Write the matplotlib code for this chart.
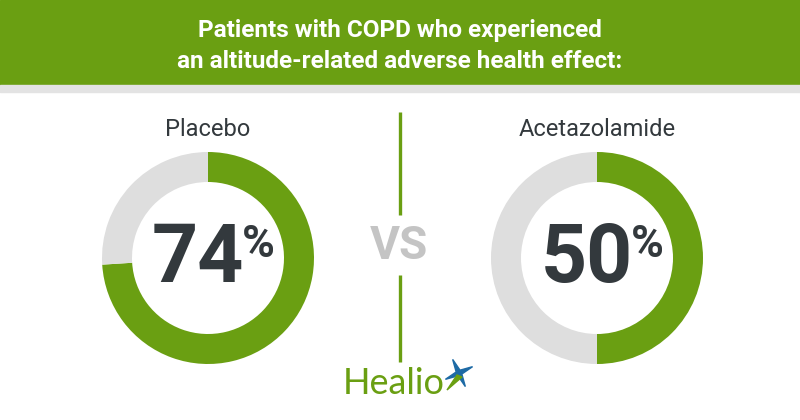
import matplotlib
matplotlib.use("Agg")
import matplotlib.pyplot as plt
from matplotlib.patches import Rectangle, Polygon
import numpy as np

# Data
groups = ["Placebo", "Acetazolamide"]
percents = [74, 50]
title_lines = ["Patients with COPD who experienced",
               "an altitude-related adverse health effect:"]

GREEN = "#6a9f12"
RING_GRAY = "#dedede"
DARK = "#33393d"

W, H = 800, 420
fig = plt.figure(figsize=(W / 100, H / 100), dpi=100)
ax = fig.add_axes([0, 0, 1, 1])
ax.set_xlim(0, W)
ax.set_ylim(0, H)
ax.set_aspect("equal")
ax.axis("off")

def py(y):
    # pixel row (from top) -> data y
    return H - y

# header band
ax.add_patch(Rectangle((0, py(85)), W, 85, color=GREEN, zorder=1))
ax.add_patch(Rectangle((0, py(92)), W, 7, color="#e3e3e3", zorder=1))
for i, line in enumerate(title_lines):
    ax.text(400, py(30 + i * 32), line, ha="center", va="center", color="white",
            fontsize=17.5, fontweight="bold", family="Roboto", zorder=2)

# donuts
centers = [208, 597]
for cx, name, pct in zip(centers, groups, percents):
    ax.pie([pct, 100 - pct], colors=[GREEN, RING_GRAY], startangle=90,
           counterclock=False, center=(cx, py(258)), radius=106,
           wedgeprops=dict(width=30, linewidth=0), frame=True)
    ax.text(cx, py(129), name, ha="center", va="center", color=DARK,
            fontsize=17, family="Roboto")
    ax.text(cx + 36, py(260), str(pct), ha="right", va="center", color=DARK,
            fontsize=58, fontweight="bold", family="Roboto")
    ax.text(cx + 34, py(245), "%", ha="left", va="center", color=DARK,
            fontsize=32, fontweight="bold", family="Roboto")

# restore axes after pie
ax.set_xlim(0, W)
ax.set_ylim(0, H)
ax.axis("off")

# divider with VS
ax.plot([400, 400], [py(112), py(215)], color=GREEN, lw=2.4, solid_capstyle="butt")
ax.plot([400, 400], [py(275), py(362)], color=GREEN, lw=2.4, solid_capstyle="butt")
ax.text(399, py(246), "VS", ha="center", va="center", color="#c4c4c4",
        fontsize=33, fontweight="bold", family="Roboto")

# Healio logo
ax.text(343, py(384), "Healio", ha="left", va="center", color=GREEN,
        fontsize=26, family="Lato")
sx, sy = 459, py(373)
rot = np.deg2rad(25)
pts = []
for k in range(8):
    a = rot + k * np.pi / 4
    r = 15 if k % 2 == 0 else 3
    pts.append((sx + r * np.cos(a), sy + r * np.sin(a)))
ax.add_patch(Polygon(pts, closed=True, color="#1d6aa5", zorder=3))
ax.add_patch(Polygon([(sx - 2, sy - 2), (sx - 12, sy - 17), (sx + 3, sy - 4)],
                     closed=True, color=GREEN, zorder=3))

fig.savefig("out.png", dpi=100, facecolor="white")
